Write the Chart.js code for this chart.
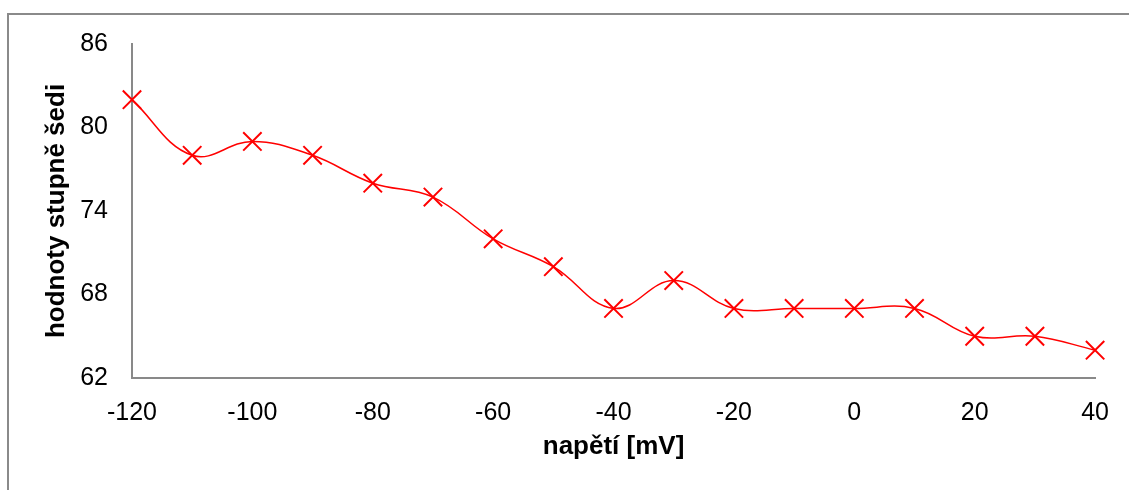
<!DOCTYPE html>
<html>
<head>
<meta charset="utf-8">
<script src="https://cdn.jsdelivr.net/npm/chart.js@4/dist/chart.umd.min.js"></script>
<style>
  html, body { margin: 0; padding: 0; background: #fff; overflow: hidden; }
  #wrap { position: relative; width: 1129px; height: 490px; }
  #frame { position: absolute; left: 7px; top: 13px; width: 1200px; height: 600px;
           border: 2px solid #8a8a8a; box-sizing: border-box; }
  canvas { position: absolute; left: 0; top: 0; }
</style>
</head>
<body>
<div id="wrap">
  <div id="frame"></div>
  <canvas id="c" width="1129" height="490"></canvas>
</div>
<script>
// napětí [mV]
const voltages = [-120, -110, -100, -90, -80, -70, -60, -50, -40, -30, -20, -10, 0, 10, 20, 30, 40];
// hodnoty stupně šedi
const greyValues = [82, 78, 79, 78, 76, 75, 72, 70, 67, 69, 67, 67, 67, 67, 65, 65, 64];
const yTicks = [62, 68, 74, 80, 86];
const xTicks = [-120, -100, -80, -60, -40, -20, 0, 20, 40];

const points = voltages.map((v, i) => ({ x: v, y: greyValues[i] }));
const axisColor = '#898989';
const font = 'Arial, "Liberation Sans", sans-serif';

new Chart(document.getElementById('c'), {
  type: 'line',
  data: {
    datasets: [{
      data: points,
      borderColor: '#ff0000',
      borderWidth: 1.5,
      tension: 0.4,
      pointStyle: 'crossRot',
      pointRadius: 13,
      pointHoverRadius: 13,
      pointBorderWidth: 2,
      pointBorderColor: '#ff0000',
      pointBackgroundColor: '#ff0000',
      fill: false,
      clip: false
    }]
  },
  options: {
    responsive: false,
    animation: false,
    events: [],
    layout: { padding: { top: 44, right: 32, left: 0, bottom: 0 } },
    plugins: { legend: { display: false }, tooltip: { enabled: false } },
    scales: {
      x: {
        type: 'linear',
        min: xTicks[0],
        max: xTicks[xTicks.length - 1],
        afterBuildTicks: s => { s.ticks = xTicks.map(v => ({ value: v })); },
        afterFit: s => { s.height = 112; },
        grid: { display: false, drawTicks: false },
        border: { display: true, color: axisColor, width: 2 },
        ticks: { color: '#000', padding: 20, maxRotation: 0, autoSkip: false,
                 font: { family: font, size: 25 } },
        title: { display: true, text: 'napětí [mV]', color: '#000',
                 padding: { top: 0, bottom: 28 },
                 font: { family: font, size: 26, weight: 'bold' } }
      },
      y: {
        type: 'linear',
        min: yTicks[0],
        max: yTicks[yTicks.length - 1],
        afterBuildTicks: s => { s.ticks = yTicks.map(v => ({ value: v })); },
        afterFit: s => { s.width = 132; },
        grid: { display: false, drawTicks: false },
        border: { display: true, color: axisColor, width: 2 },
        ticks: { color: '#000', padding: 24, autoSkip: false,
                 font: { family: font, size: 25 } },
        title: { display: true, text: 'hodnoty stupně šedi', color: '#000',
                 padding: { top: 41, bottom: 0 },
                 font: { family: font, size: 26, weight: 'bold' } }
      }
    }
  }
});
</script>
</body>
</html>
